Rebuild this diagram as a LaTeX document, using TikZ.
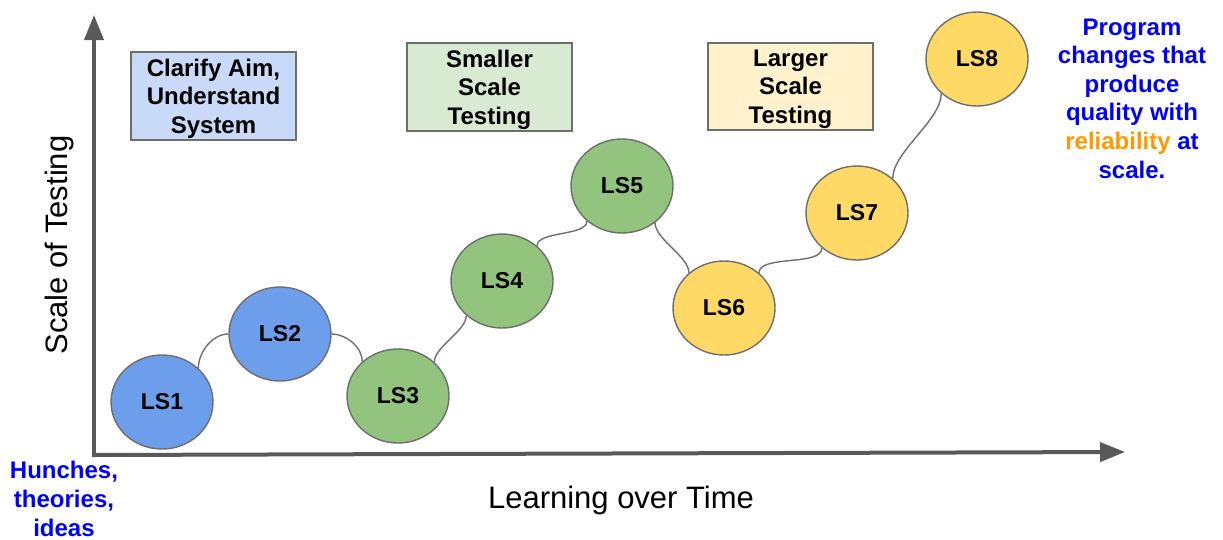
\documentclass[tikz,border=0pt]{standalone}
\usepackage{fontspec}
\setmainfont{Liberation Sans}
\usetikzlibrary{shapes.geometric,arrows.meta}
\definecolor{axisgray}{HTML}{595959}
\definecolor{edgegray}{HTML}{6E6E6E}
\definecolor{lsblue}{HTML}{6D9EEB}
\definecolor{lsgreen}{HTML}{93C47D}
\definecolor{lsyellow}{HTML}{FFD966}
\definecolor{boxblue}{HTML}{C9DAF8}
\definecolor{boxgreen}{HTML}{D9EAD3}
\definecolor{boxyellow}{HTML}{FFF2CC}
\definecolor{txtblue}{HTML}{0000FF}
\definecolor{txtorange}{HTML}{FF9900}
\tikzset{
  ls/.style={ellipse, draw=edgegray, line width=1.4pt, minimum width=102pt, minimum height=94pt, inner sep=0pt,
    font=\fontsize{23}{27}\selectfont\bfseries},
  phase/.style={rectangle, draw=edgegray, line width=1.4pt, inner sep=0pt, align=center, text depth=0pt,
    font=\fontsize{24}{28.5}\selectfont\bfseries},
  axisline/.style={draw=axisgray, line width=4pt, -{Triangle[length=25pt,width=19pt]}},
  link/.style={draw=edgegray, line width=1.4pt, looseness=0.7},
  note/.style={align=center, inner sep=0pt, text=txtblue, font=\fontsize{24}{28.6}\selectfont\bfseries},
  axlabel/.style={inner sep=0pt, font=\fontsize{31}{36}\selectfont}
}
\begin{document}
\begin{tikzpicture}[x=1pt,y=-1pt]
\useasboundingbox (0,0) rectangle (1223,539);
% axes
\coordinate (origin) at (94,455);
\coordinate (ytip) at (94,15);
\coordinate (xorigin) at (92,455);
\coordinate (xtip) at (1125,452);
\draw[axisline] (origin) -- (ytip);
\draw[axisline] (xorigin) -- (xtip);
% phase boxes
\node[phase, fill=boxblue, minimum width=165pt, minimum height=88pt] (aim) at (213.5,96) {Clarify Aim,\\Understand\\System};
\node[phase, fill=boxgreen, minimum width=165pt, minimum height=88pt] (small) at (489.5,87) {Smaller\\Scale\\Testing};
\node[phase, fill=boxyellow, minimum width=165pt, minimum height=87pt] (large) at (790.5,86.5) {Larger\\Scale\\Testing};
% learning steps
\node[ls, fill=lsblue] (ls1) at (162,402) {LS1};
\node[ls, fill=lsblue] (ls2) at (280,334) {LS2};
\node[ls, fill=lsgreen] (ls3) at (398,396) {LS3};
\node[ls, fill=lsgreen] (ls4) at (502,281) {LS4};
\node[ls, fill=lsgreen] (ls5) at (622,186) {LS5};
\node[ls, fill=lsyellow] (ls6) at (724,308) {LS6};
\node[ls, fill=lsyellow] (ls7) at (857,213) {LS7};
\node[ls, fill=lsyellow] (ls8) at (977,59) {LS8};
% connectors
\draw[link] (ls1.43) to[out=90,in=180,looseness=0.9] (ls2.180);
\draw[link] (ls2.0) to[out=0,in=90,looseness=0.9] (ls3.136);
\draw[link] (ls3.43) to[out=90,in=-90] (ls4.224);
\draw[link] (ls4.45) to[out=90,in=-90] (ls5.225);
\draw[link] (ls5.312) to[out=-90,in=90] (ls6.135);
\draw[link] (ls6.45) to[out=90,in=-90] (ls7.225);
\draw[link] (ls7.44) to[out=90,in=-90] (ls8.224);
% texts
\node[note] (goal) at (1132,98.5) {Program\\changes that\\produce\\quality with\\\textcolor{txtorange}{reliability} at\\scale.};
\node[note] (start) at (64,499) {Hunches,\\theories,\\ideas};
\node[axlabel, rotate=90] (ylab) at (59,245) {Scale of Testing};
\node[axlabel] (xlab) at (621,500) {Learning over Time};
\end{tikzpicture}
\end{document}
